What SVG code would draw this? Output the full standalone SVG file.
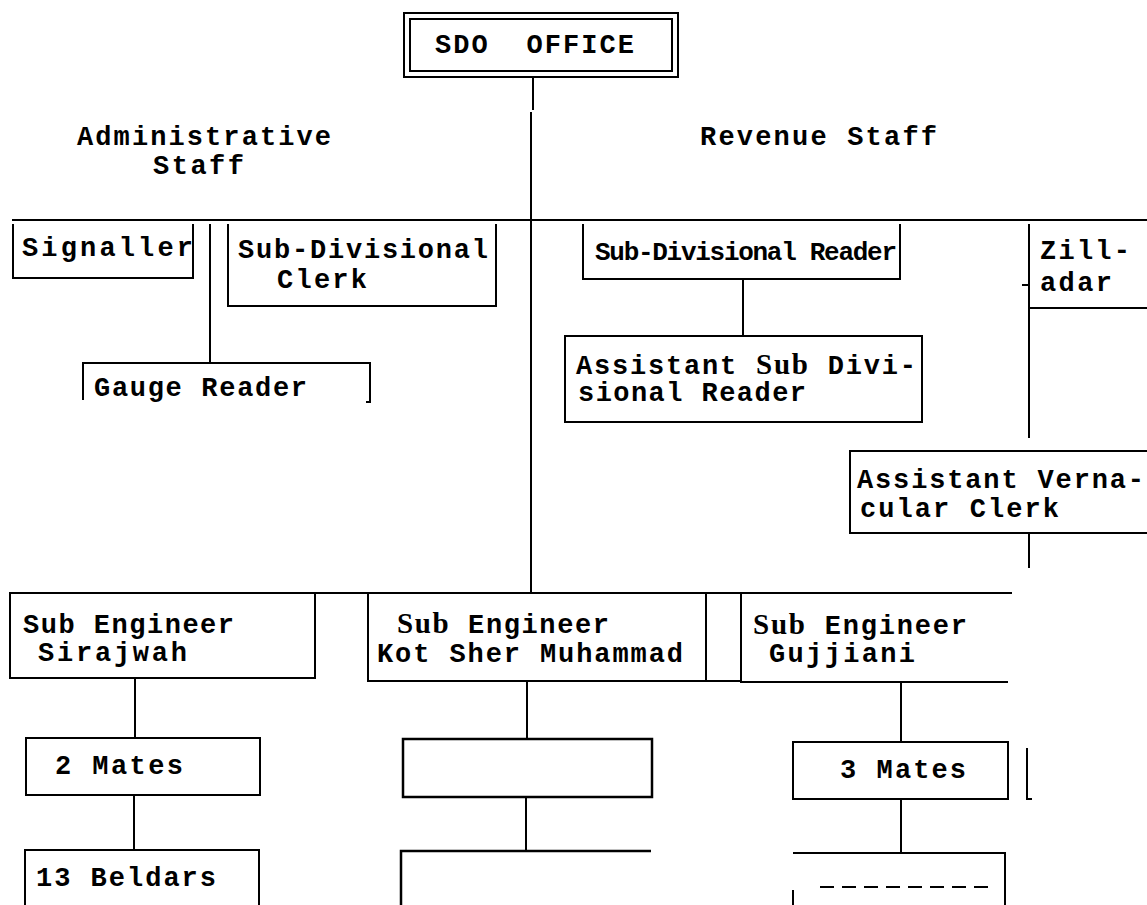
<svg xmlns="http://www.w3.org/2000/svg" width="1147" height="905" viewBox="0 0 1147 905">
<style>
.t{font-family:"Liberation Mono","Courier New",monospace;font-size:27px;font-weight:bold;fill:#000}
.s{font-family:"Liberation Serif","Times New Roman",serif;font-weight:bold;font-size:29px}
.b{fill:none;stroke:#000;stroke-width:2}
.bk{fill:none;stroke:#000;stroke-width:2.5}
.c{fill:none;stroke:#000;stroke-width:2}
</style>
<rect width="1147" height="905" fill="#fff"/>
<g id="connectors">
<path class="c" d="M533,77 V110 M531,112 V593"/>
<path class="c" d="M12,220 H1147"/>
<path class="c" d="M12,593 H1012"/>
<path class="c" d="M210,224 V363"/>
<path class="c" d="M743,279 V336"/>
<path class="c" d="M1029,224 V438 M1022,285 H1029"/>
<path class="c" d="M1029,533 V568"/>
<path class="c" d="M135,678 V738"/>
<path class="c" d="M134,795 V850"/>
<path class="c" d="M527,681 V739"/>
<path class="c" d="M526,797 V851"/>
<path class="c" d="M901,683 V742"/>
<path class="c" d="M901,799 V853"/>
</g>
<g id="sdo-office">
<rect class="b" x="404" y="13" width="274" height="64"/>
<rect class="b" x="410" y="19" width="262" height="52"/>
<text class="t" x="435" y="53" textLength="199" xml:space="preserve">SDO  OFFICE</text>
</g>
<g id="admin-label">
<text class="t" x="77" y="145" textLength="254">Administrative</text>
<text class="t" x="153" y="174" textLength="91">Staff</text>
</g>
<g id="revenue-label">
<text class="t" x="700" y="145" textLength="237">Revenue Staff</text>
</g>
<g id="signaller">
<path class="b" d="M13,224 V278 H193 V224"/>
<text class="t" x="22" y="256" textLength="171">Signaller</text>
</g>
<g id="sd-clerk">
<path class="b" d="M228,224 V306 H496 V224"/>
<text class="t" x="238" y="258" textLength="250">Sub-Divisional</text>
<text class="t" x="277" y="288" textLength="90">Clerk</text>
</g>
<g id="gauge-reader">
<path class="b" d="M83,400 V363 H370 V402 H366"/>
<text class="t" x="94" y="396" textLength="213">Gauge Reader</text>
</g>
<g id="sd-reader">
<path class="b" d="M583,224 V279 H900 V224"/>
<text class="t" x="595" y="260" textLength="302" style="font-size:26px">Sub-Divisional Reader</text>
</g>
<g id="asst-sd-reader">
<rect class="b" x="565" y="336" width="357" height="86"/>
<text class="t" x="576" y="374" textLength="340">Assistant <tspan class="s">Sub</tspan> Divi-</text>
<text class="t" x="578" y="401" textLength="228">sional Reader</text>
</g>
<g id="zilladar">
<path class="b" d="M1029,308 H1147"/>
<text class="t" x="1040" y="259" textLength="90">Zill-</text>
<text class="t" x="1040" y="291" textLength="72">adar</text>
</g>
<g id="asst-vernacular-clerk">
<path class="b" d="M1147,451 H850 V533 H1147"/>
<text class="t" x="857" y="488" textLength="287">Assistant Verna-</text>
<text class="t" x="860" y="517" textLength="199">cular Clerk</text>
</g>
<g id="se-sirajwah">
<rect class="b" x="10" y="593" width="305" height="85"/>
<text class="t" x="23" y="633" textLength="211">Sub Engineer</text>
<text class="t" x="38" y="661" textLength="149">Sirajwah</text>
</g>
<g id="mates-2">
<rect class="b" x="26" y="738" width="234" height="57"/>
<text class="t" x="55" y="774" textLength="128">2 Mates</text>
</g>
<g id="beldars-13">
<path class="b" d="M25,905 V850 H259 V905"/>
<text class="t" x="36" y="886" textLength="180">13 Beldars</text>
</g>
<g id="se-kot-sher-muhammad">
<path class="b" d="M368,593 V681 H706 V593"/>
<text class="t" x="397" y="633" textLength="212"><tspan class="s">Sub</tspan> Engineer</text>
<text class="t" x="377" y="662" textLength="306">Kot Sher Muhammad</text>
</g>
<g id="empty-1">
<rect class="bk" x="403" y="739" width="249" height="58"/>
</g>
<g id="empty-2">
<path class="bk" d="M401,905 V851 H651"/>
</g>
<g id="se-gujjiani">
<path class="b" d="M741,593 V682 H1008 M706,681 H741"/>
<text class="t" x="753" y="634" textLength="214"><tspan class="s">Sub</tspan> Engineer</text>
<text class="t" x="769" y="662" textLength="146">Gujjiani</text>
</g>
<g id="mates-3">
<rect class="b" x="793" y="742" width="215" height="57"/>
<path class="b" d="M1027,748 V799 H1032"/>
<text class="t" x="840" y="778" textLength="126">3 Mates</text>
</g>
<g id="beldars-gujjiani">
<path class="b" d="M793,905 V890 M793,853 H1005 V905"/>
<path d="M820,887 H995" fill="none" stroke="#000" stroke-width="2" stroke-dasharray="14,8"/>
</g>
</svg>
